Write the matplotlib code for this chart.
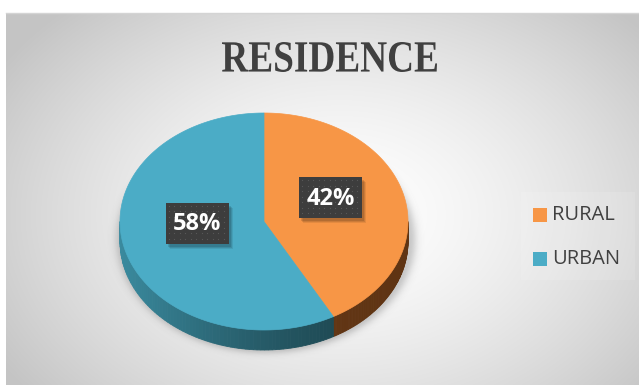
import numpy as np
import matplotlib.pyplot as plt
from matplotlib.patches import Polygon, Rectangle, PathPatch
from matplotlib.textpath import TextPath
from matplotlib.font_manager import FontProperties
from matplotlib.transforms import Affine2D
from matplotlib.colors import to_rgb

# chart data
categories = ["RURAL", "URBAN"]
shares = [42, 58]
top_colors = ["#F79646", "#4BACC6"]
side_colors = [("#74411a", "#5f3413"), ("#3a8a9e", "#1b414a")]
title = "RESIDENCE"

W, H = 639, 385
fig = plt.figure(figsize=(W / 100, H / 100), dpi=100)
ax = fig.add_axes([0, 0, 1, 1])
ax.set_xlim(0, W)
ax.set_ylim(H, 0)
ax.axis("off")

# radial gradient chart area
x0, y0 = 6, 13
yy, xx = np.mgrid[y0:H, x0:W] + 0.5
d = np.sqrt(((xx - 340) / 420) ** 2 + ((yy - 215) / 300) ** 2)
d = np.clip(d / 0.95, 0, 1)
shade = 1.0 - 0.23 * d ** 1.5
bg = np.dstack([shade, shade, shade])
ax.imshow(bg, extent=[x0, W, H, y0], zorder=0, interpolation="bilinear")
ax.plot([x0, W], [y0, y0], color="#d4d4d4", lw=1, zorder=1)

# pie geometry (pixel space)
cx, cy = 264, 221.5
rx, ry = 144, 108.5
depth = 20


def rim(t, dy=0.0):
    return cx + rx * np.sin(t), cy - ry * np.cos(t) + dy


# soft shadow below the pie
sy, sx = np.mgrid[90:385, 80:460] + 0.5
e = np.sqrt(((sx - cx - 2) / (rx + 4)) ** 2 + ((sy - cy - depth + 2) / (ry + 4)) ** 2)
alpha = 0.30 * np.exp(-np.clip(e - 0.97, 0, None) ** 2 / 0.0025)
alpha[e < 0.97] = 0.30
sh = np.zeros(sy.shape + (4,))
sh[..., :3] = 0.35
sh[..., 3] = alpha
ax.imshow(sh, extent=[80, 460, 385, 90], zorder=2, interpolation="bilinear")

fracs = np.array(shares) / sum(shares)
edges = np.concatenate([[0], np.cumsum(fracs)]) * 2 * np.pi

# side band, only the front half is visible
for i in range(len(shares)):
    a, b = max(edges[i], np.pi / 2), min(edges[i + 1], 3 * np.pi / 2)
    if a >= b:
        continue
    c_light, c_dark = np.array(to_rgb(side_colors[i][0])), np.array(to_rgb(side_colors[i][1]))
    ts = np.linspace(a, b, 80)
    for k in range(len(ts) - 1):
        t1, t2 = ts[k], ts[k + 1]
        # light falls from the left, darker towards the lower right
        w = (np.sin((t1 + t2) / 2) * -1 + 1) / 2
        col = c_dark + (c_light - c_dark) * w ** 1.5
        xa, ya = rim(t1)
        xb, yb = rim(t2)
        ax.add_patch(Polygon([(xa, ya), (xb, yb), (xb, yb + depth), (xa, ya + depth)],
                             closed=True, fc=col, ec=col, lw=0.6, zorder=3))

# top faces
for i in range(len(shares)):
    ts = np.linspace(edges[i], edges[i + 1], 200)
    px, py = rim(ts)
    pts = np.column_stack([np.r_[cx, px], np.r_[cy, py]])
    ax.add_patch(Polygon(pts, closed=True, fc=top_colors[i], ec=top_colors[i], lw=0.5, zorder=4))

# data labels in dark dotted boxes
label_font = FontProperties(family="Open Sans", weight="bold", size=17)
for i in range(len(shares)):
    mid = (edges[i] + edges[i + 1]) / 2
    lx = cx + rx * 0.48 * np.sin(mid)
    ly = cy - ry * 0.48 * np.cos(mid) - 11
    bw, bh = 63, 41
    for s, a in [(5, 0.08), (4, 0.10), (3, 0.12)]:
        ax.add_patch(Rectangle((lx - bw / 2 + s - 1, ly - bh / 2 + s), bw, bh,
                               fc="black", ec="none", alpha=a, zorder=5))
    ax.add_patch(Rectangle((lx - bw / 2, ly - bh / 2), bw, bh, fc="#3d3d3d", ec="none", zorder=6))
    gx, gy = np.meshgrid(np.arange(lx - bw / 2 + 3, lx + bw / 2, 5.5),
                         np.arange(ly - bh / 2 + 3, ly + bh / 2, 5.5))
    ax.scatter(gx.ravel(), gy.ravel(), s=0.8, color="#595959", lw=0, zorder=7)
    ax.text(lx, ly + 1, f"{shares[i]}%", color="white", fontproperties=label_font,
            ha="center", va="center", zorder=8)

# legend
leg_font = FontProperties(family="Open Sans", size=14.5)
ax.add_patch(Rectangle((521, 192), 114, 88, fc="white", ec="none", alpha=0.12, zorder=2))
for i, name in enumerate(categories):
    ly = 215 + i * 44
    ax.add_patch(Rectangle((533, ly - 7), 14, 14, fc=top_colors[i], ec="none", zorder=5))
    ax.text(552, ly, name, color="#404040", fontproperties=leg_font, va="center", ha="left", zorder=5)

# title drawn as a path so it can be condensed like the original font
tp = TextPath((0, 0), title, size=100, prop=FontProperties(family="Liberation Serif", weight="bold"))
bb = tp.get_extents()
t_w, t_h = 215, 30
tr = (Affine2D().translate(-bb.x0, -bb.y0)
      .scale(t_w / bb.width, -t_h / bb.height)
      .translate(222, 72))
ax.add_patch(PathPatch(tr.transform_path(tp), fc="#404040", ec="none", zorder=5))

fig.savefig("out.png", dpi=100)
